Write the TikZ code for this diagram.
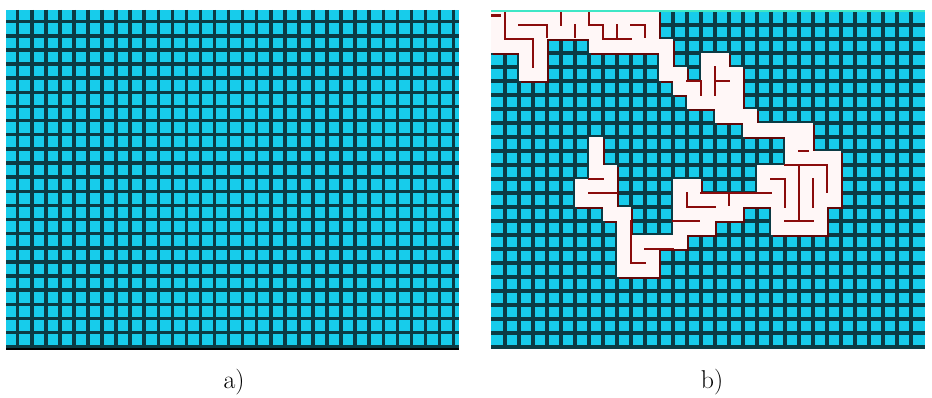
\documentclass[tikz,border=0pt]{standalone}
\usepackage{tikz}
\definecolor{cellcyan}{HTML}{17CCEB}
\definecolor{gridline}{HTML}{0B3B44}
\definecolor{pathwhite}{HTML}{FFF7F7}
\definecolor{wallred}{HTML}{8A0C0C}
\definecolor{topline}{HTML}{3FE6C6}
\definecolor{baseline}{HTML}{1F4F8F}
\tikzset{
  gridrule/.style={draw=gridline, line width=1.05mm},
  walkcell/.style={fill=pathwhite},
  walkshade/.style={fill=wallred!70!black},
  wall/.style={draw=wallred, line width=0.85mm, line cap=rect},
  panellabel/.style={font=\fontsize{22}{26}\selectfont, inner sep=0pt},
}
\begin{document}
\begin{tikzpicture}[x=0.3mm, y=-0.3mm]
  \useasboundingbox (0,0) rectangle (932,398);
  % panel a: empty grid
  \fill[cellcyan] (6,10) rectangle (459,349);
  \foreach \i in {0,...,31}
    \draw[gridrule] ({17.7+14.06*\i},10) -- ({17.7+14.06*\i},349);
  \foreach \j in {0,...,23}
    \draw[gridrule] (6,{21.7+14.13*\j}) -- (459,{21.7+14.13*\j});
  \draw[baseline, line width=0.6mm] (6,349) -- (459,349);
  % panel b: grid with the walked maze
  \begin{scope}[shift={(491,11)}, x=4.2mm, y=-4.2mm]
    \fill[cellcyan] (0,0) rectangle (31,24.1);
    \foreach \i in {1,...,30}
      \draw[gridrule] (\i,0) -- (\i,24.1);
    \foreach \j in {1,...,24}
      \draw[gridrule] (0,\j) -- (31,\j);
    \foreach \ca/\ra/\cb/\rb in {0/0/11/1, 0/2/3/2, 2/3/3/4, 7/2/11/2,
        12/2/12/4, 13/4/13/5, 14/5/14/6, 15/3/16/6, 17/4/17/5,
        14/6/17/6, 16/7/18/7, 18/8/22/8, 21/9/22/9, 21/10/24/13,
        19/11/20/13, 20/14/23/15, 14/13/20/13, 13/12/14/14,
        14/14/17/14, 13/15/15/15, 10/16/13/16, 9/16/11/18,
        7/9/7/11, 8/11/8/11, 6/12/8/13, 8/14/9/14, 9/15/9/15}
      \fill[walkshade] (\ca+0.12,\ra+0.12) rectangle (\cb+1.12,\rb+1.12);
    \foreach \ca/\ra/\cb/\rb in {0/0/11/1, 0/2/3/2, 2/3/3/4, 7/2/11/2,
        12/2/12/4, 13/4/13/5, 14/5/14/6, 15/3/16/6, 17/4/17/5,
        14/6/17/6, 16/7/18/7, 18/8/22/8, 21/9/22/9, 21/10/24/13,
        19/11/20/13, 20/14/23/15, 14/13/20/13, 13/12/14/14,
        14/14/17/14, 13/15/15/15, 10/16/13/16, 9/16/11/18,
        7/9/7/11, 8/11/8/11, 6/12/8/13, 8/14/9/14, 9/15/9/15}
      \fill[walkcell] (\ca,\ra) rectangle (\cb+1,\rb+1);
    % walls
    \draw[wall] (0.1,0.3) -- (0.6,0.3);
    \draw[wall] (1,0) -- (1,2) -- (3,2) -- (3,4);
    \draw[wall] (2,1) -- (4,1) -- (4,1.8);
    \draw[wall] (5,0) -- (5,1);
    \draw[wall] (6,1) -- (6,1.8);
    \draw[wall] (7,0) -- (7,1) -- (8,1) -- (8,2) -- (10,2);
    \draw[wall] (9,1) -- (9,2);
    \draw[wall] (10,1) -- (11,1) -- (11,1.8);
    \draw[wall] (14,5) -- (15,5) -- (15,6);
    \draw[wall] (16,4) -- (16,6);
    \draw[wall] (16,5) -- (17,5);
    \draw[wall] (22,10) -- (22.6,10);
    \draw[wall] (21,11) -- (24,11) -- (24,12.9);
    \draw[wall] (22,11) -- (22,15);
    \draw[wall] (21,15) -- (23,15);
    \draw[wall] (23,12) -- (23,14);
    \draw[wall] (20,12) -- (21,12) -- (21,14);
    \draw[wall] (15,13) -- (20,13);
    \draw[wall] (14,13) -- (14,14) -- (16,14);
    \draw[wall] (13,15) -- (14.8,15);
    \draw[wall] (17,13) -- (17,13.8);
    \draw[wall] (11,17) -- (13,17);
    \draw[wall] (10,15) -- (10,18) -- (11,18);
    \draw[wall] (7,12) -- (8,12);
    \draw[wall] (7,13) -- (9,13);
    \draw[topline, line width=0.6mm] (0,0) -- (31,0);
  \end{scope}
  \node[panellabel] (la) at (234,382) {a)};
  \node[panellabel] (lb) at (712,382) {b)};
\end{tikzpicture}
\end{document}
